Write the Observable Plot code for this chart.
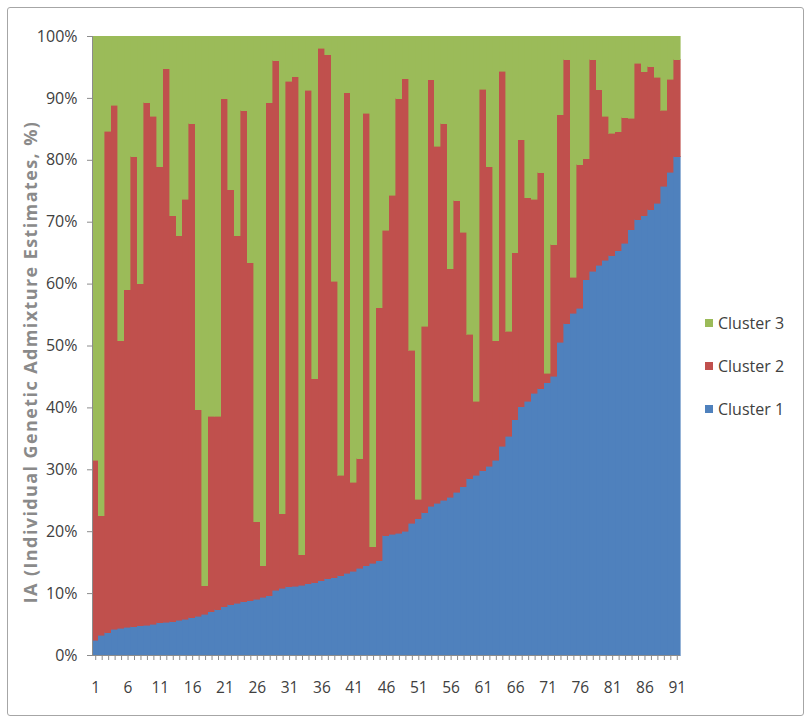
<!DOCTYPE html>
<html><head><meta charset="utf-8">
<script src="https://cdn.jsdelivr.net/npm/d3@7"></script>
<script src="https://cdn.jsdelivr.net/npm/@observablehq/plot@0.6"></script>
<style>
body{margin:0;background:#fff;font-family:"Open Sans",sans-serif;}
#frame{position:absolute;left:7px;top:7px;width:795px;height:707px;border:1px solid #a6a6a6;border-radius:3px;}
#chart{position:absolute;left:0;top:0;}
#ytitle{position:absolute;left:30px;top:362px;transform:translate(-50%,-50%) rotate(-90deg);white-space:nowrap;font-weight:bold;color:#8a8a8a;font-size:18px;letter-spacing:1.4px;}
#legend{position:absolute;left:705px;top:312px;font-size:16px;color:#404040;}
.li{display:flex;align-items:center;height:22px;margin-bottom:21px;}
.sw{width:8px;height:8px;margin-right:5px;}
</style></head>
<body>
<div id="frame"></div>
<div id="chart"></div>
<div id="ytitle">IA (Individual Genetic Admixture Estimates, %)</div>
<div id="legend"></div>
<script>
const clusters = ["Cluster 1","Cluster 2","Cluster 3"];
const colors = ["#4F81BD","#C0504D","#9BBB59"];
const ids = d3.range(1, 92);
const xLabels = [1,6,11,16,21,26,31,36,41,46,51,56,61,66,71,76,81,86,91];
const yTicks = [0,10,20,30,40,50,60,70,80,90,100];

const cluster1 = [2.4,3.2,3.6,4.2,4.3,4.5,4.6,4.7,4.8,5.0,
5.2,5.3,5.4,5.6,5.8,6.0,6.3,6.6,7.0,7.3,
7.8,8.1,8.4,8.6,8.8,9.0,9.3,9.6,10.5,10.8,
11.0,11.1,11.3,11.5,11.7,12.0,12.3,12.5,12.8,13.2,
13.5,14.0,14.4,14.8,15.2,19.3,19.5,19.7,20.0,21.3,
22.0,23.0,24.0,24.5,25.0,25.5,26.3,27.2,28.5,29.0,
29.8,30.5,31.5,33.7,35.3,38.0,40.1,41.0,42.3,43.0,
44.0,45.0,50.5,53.5,55.2,56.0,60.6,62.0,63.0,63.8,
64.5,65.3,66.5,68.7,70.3,71.0,71.9,73.0,75.7,78.0,80.5];

const cluster2 = [29.1,19.3,81.0,84.6,46.5,54.5,75.9,55.3,84.4,82.0,
73.7,89.4,65.6,62.1,67.8,79.8,33.3,4.6,31.6,31.3,
82.1,67.1,59.3,79.3,54.6,12.5,5.1,79.6,85.5,12.0,
81.7,82.3,4.9,79.7,32.9,86.0,84.7,47.9,16.2,77.6,
14.4,17.7,73.1,2.7,40.9,49.3,54.8,70.2,73.1,27.9,
3.2,30.1,68.9,57.7,60.8,36.9,47.1,41.1,23.3,12.0,
61.6,48.4,19.3,60.6,17.0,27.0,43.1,32.9,31.3,34.9,
1.5,21.3,36.8,42.7,5.8,23.2,19.6,34.2,28.3,23.2,
19.8,19.2,20.3,18.0,25.3,23.2,23.1,20.3,12.3,15.0,15.7];

const cluster3 = [68.5,77.5,15.4,11.2,49.2,41.0,19.5,40.0,10.8,13.0,
21.1,5.3,29.0,32.3,26.4,14.2,60.4,88.8,61.4,61.4,
10.1,24.8,32.3,12.1,36.6,78.5,85.6,10.8,4.0,77.2,
7.3,6.6,83.8,8.8,55.4,2.0,3.0,39.6,71.0,9.2,
72.1,68.3,12.5,82.5,43.9,31.4,25.7,10.1,6.9,50.8,
74.8,46.9,7.1,17.8,14.2,37.6,26.6,31.7,48.2,59.0,
8.6,21.1,49.2,5.7,47.7,35.0,16.8,26.1,26.4,22.1,
54.5,33.7,12.7,3.8,39.0,20.8,19.8,3.8,8.7,13.0,
15.7,15.5,13.2,13.3,4.4,5.8,5.0,6.7,12.0,7.0,3.8];

const series = [cluster1, cluster2, cluster3];
const rows = [];
ids.forEach((id, i) => {
  series.forEach((s, k) => rows.push({id, cluster: clusters[k], value: s[i]}));
});

const chart = Plot.plot({
  width: 700, height: 710,
  marginLeft: 92, marginRight: 20, marginTop: 36, marginBottom: 55,
  x: {type: "band", domain: ids, padding: 0, label: null},
  y: {domain: [0, 100], label: null},
  color: {domain: clusters, range: colors},
  style: {fontFamily: "Open Sans, sans-serif", fontSize: "15px", color: "#404040", background: "transparent", overflow: "visible"},
  marks: [
    Plot.barY(rows, {x: "id", y: "value", fill: "cluster", stroke: "cluster", strokeWidth: 0.6, shapeRendering: "crispEdges"}),
    Plot.axisY({ticks: yTicks, tickFormat: d => d + "%", tickSize: 5, tickPadding: 10, stroke: "#8c8c8c", fontSize: 16, label: null}),
    Plot.axisX({ticks: ids, tickFormat: () => "", tickSize: 5, stroke: "#8c8c8c", label: null}),
    Plot.axisX({ticks: xLabels, tickSize: 0, tickPadding: 26, fontSize: 15.5, label: null}),
    Plot.ruleY([0], {stroke: "#8c8c8c"}),
    Plot.frame({anchor: "left", stroke: "#8c8c8c"})
  ]
});
document.getElementById("chart").appendChild(chart);

const legend = document.getElementById("legend");
[2, 1, 0].forEach(k => {
  const d = document.createElement("div");
  d.className = "li";
  d.innerHTML = `<span class="sw" style="background:${colors[k]}"></span><span>${clusters[k]}</span>`;
  legend.appendChild(d);
});
</script>
</body></html>
